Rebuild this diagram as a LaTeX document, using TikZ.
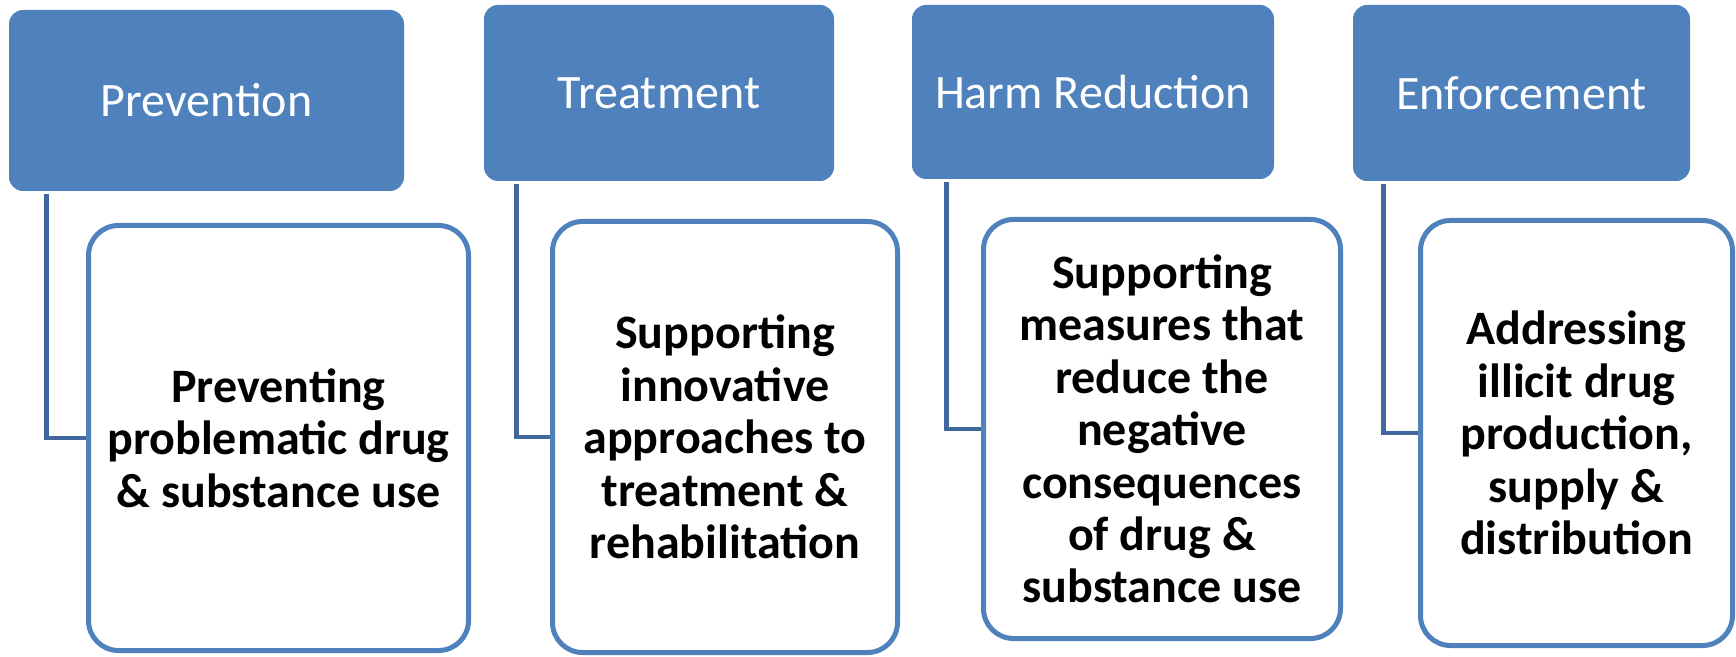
\documentclass[tikz,border=0pt]{standalone}
\usepackage{fontspec}
\setmainfont{Carlito}
\definecolor{hdrblue}{HTML}{4F81BD}
\definecolor{boxblue}{HTML}{4F81BD}
\definecolor{connblue}{HTML}{41689E}
\begin{document}
\begin{tikzpicture}[x=0.5pt,y=-0.5pt,
  hdr/.style={fill=hdrblue,draw=none,rounded corners=7pt,inner sep=0pt,
    text=white,font=\fontsize{24pt}{26pt}\selectfont},
  card/.style={draw=boxblue,fill=white,line width=2.5pt,rounded corners=15pt,inner sep=0pt,
    align=center,text=black,font=\fontsize{24pt}{26.2pt}\selectfont\bfseries},
  conn/.style={draw=connblue,line width=2.3pt}]
\useasboundingbox[fill=white] (0,0) rectangle (1736,657);
% headers
\node[hdr,minimum width=197.5pt,minimum height=90.5pt] (h1) at (206.5,100.5) {Prevention};
\node[hdr,minimum width=175pt,minimum height=88pt] (h2) at (659,93) {Treatment};
\node[hdr,minimum width=181pt,minimum height=87pt] (h3) at (1093,92) {Harm Reduction};
\node[hdr,minimum width=168.5pt,minimum height=88pt] (h4) at (1521.5,93) {Enforcement};
% cards
\node[card,minimum width=190pt,minimum height=212.5pt] (c1) at (278.5,438)
  {Preventing\\problematic drug\\\& substance use};
\node[card,minimum width=172.5pt,minimum height=215.5pt] (c2) at (725,437)
  {Supporting\\innovative\\approaches to\\treatment \&\\rehabilitation};
\node[card,minimum width=178.5pt,minimum height=209.5pt] (c3) at (1162,429)
  {Supporting\\measures that\\reduce the\\negative\\consequences\\of drug \&\\substance use};
\node[card,minimum width=156pt,minimum height=212.5pt] (c4) at (1576.5,433)
  {Addressing\\illicit drug\\production,\\supply \&\\distribution};
% connectors
\draw[conn] ([xshift=19pt,yshift=-1.5pt]h1.south west) |- (c1.west);
\draw[conn] ([xshift=16.5pt,yshift=-1.5pt]h2.south west) |- (c2.west);
\draw[conn] ([xshift=17.5pt,yshift=-1.5pt]h3.south west) |- (c3.west);
\draw[conn] ([xshift=15.5pt,yshift=-1.5pt]h4.south west) |- (c4.west);
\end{tikzpicture}
\end{document}
